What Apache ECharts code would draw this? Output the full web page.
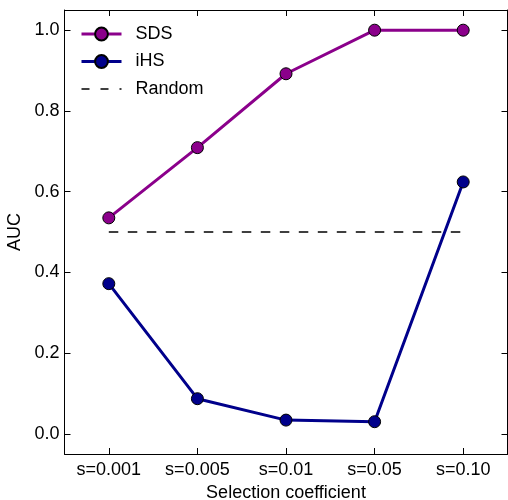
<!DOCTYPE html>
<html>
<head>
<meta charset="utf-8">
<script src="https://cdn.jsdelivr.net/npm/echarts@6/dist/echarts.min.js"></script>
<style>
  html, body { margin: 0; padding: 0; background: #fff; }
  #chart { width: 508px; height: 500px; }
</style>
</head>
<body>
<div id="chart"></div>
<script>
// Selection strengths on the x axis
const categories = ['s=0.001', 's=0.005', 's=0.01', 's=0.05', 's=0.10'];
// AUC per selection strength
const sdsValues = [0.535, 0.709, 0.892, 1.0, 1.0];
const ihsValues = [0.372, 0.087, 0.034, 0.030, 0.624];
// Baseline for a random classifier
const randomValues = [0.5, 0.5, 0.5, 0.5, 0.5];

const FONT = 'Liberation Sans';
const textStyle = { fontFamily: FONT, fontSize: 18, color: '#000' };

const chart = echarts.init(document.getElementById('chart'), null, { renderer: 'canvas' });

const markerStyle = (color) => ({ color: color, borderColor: '#000', borderWidth: 1 });

const baseX = {
  type: 'category',
  data: categories,
  boundaryGap: true,
  axisLine: { show: true, onZero: false, lineStyle: { color: '#000', width: 1 } },
  axisTick: { show: true, inside: true, length: 6, alignWithLabel: true, lineStyle: { color: '#000', width: 1 } },
  splitLine: { show: false }
};
const baseY = {
  type: 'value',
  min: -0.05,
  max: 1.05,
  splitNumber: 5,
  axisLine: { show: true, onZero: false, lineStyle: { color: '#000', width: 1 } },
  axisTick: { show: true, inside: true, length: 6, lineStyle: { color: '#000', width: 1 } },
  splitLine: { show: false }
};

chart.setOption({
  animation: false,
  backgroundColor: '#fff',
  textStyle: { fontFamily: FONT },
  grid: { left: 64.5, top: 10, right: 0.5, bottom: 46, containLabel: false, outerBoundsMode: 'none' },
  legend: {
    orient: 'vertical',
    left: 80,
    top: 25,
    padding: 0,
    itemWidth: 40,
    itemHeight: 16,
    itemGap: 9.5,
    data: [
      { name: 'SDS', lineStyle: { width: 3 } },
      { name: 'iHS', lineStyle: { width: 3 } },
      { name: 'Random', itemStyle: { opacity: 0 }, lineStyle: { width: 1.5, type: [8, 11] } }
    ],
    textStyle: Object.assign({}, textStyle, { padding: [0, 0, 0, 9] })
  },
  xAxis: [
    Object.assign({}, baseX, {
      position: 'bottom',
      name: 'Selection coefficient',
      nameLocation: 'middle',
      nameGap: 29,
      nameTextStyle: textStyle,
      axisLabel: Object.assign({}, textStyle, { margin: 7 })
    }),
    Object.assign({}, baseX, {
      position: 'top',
      axisLabel: { show: false }
    })
  ],
  yAxis: [
    Object.assign({}, baseY, {
      position: 'left',
      name: 'AUC',
      nameLocation: 'middle',
      nameGap: 38,
      nameTextStyle: textStyle,
      axisLabel: Object.assign({}, textStyle, {
        margin: 5,
        showMinLabel: false,
        showMaxLabel: false,
        formatter: (v) => v.toFixed(1)
      })
    }),
    Object.assign({}, baseY, {
      position: 'right',
      axisLabel: { show: false }
    })
  ],
  series: [
    {
      name: 'SDS',
      type: 'line',
      data: sdsValues,
      symbol: 'circle',
      symbolSize: 12,
      color: '#8b008b',
      lineStyle: { color: '#8b008b', width: 3 },
      itemStyle: markerStyle('#8b008b'),
      z: 3
    },
    {
      name: 'iHS',
      type: 'line',
      data: ihsValues,
      symbol: 'circle',
      symbolSize: 12,
      color: '#00008b',
      lineStyle: { color: '#00008b', width: 3 },
      itemStyle: markerStyle('#00008b'),
      z: 3
    },
    {
      name: 'Random',
      type: 'line',
      data: randomValues,
      symbol: 'none',
      color: '#000',
      lineStyle: { color: '#000', width: 1.5, type: [9.5, 9.5] },
      z: 2
    }
  ]
});
</script>
</body>
</html>
